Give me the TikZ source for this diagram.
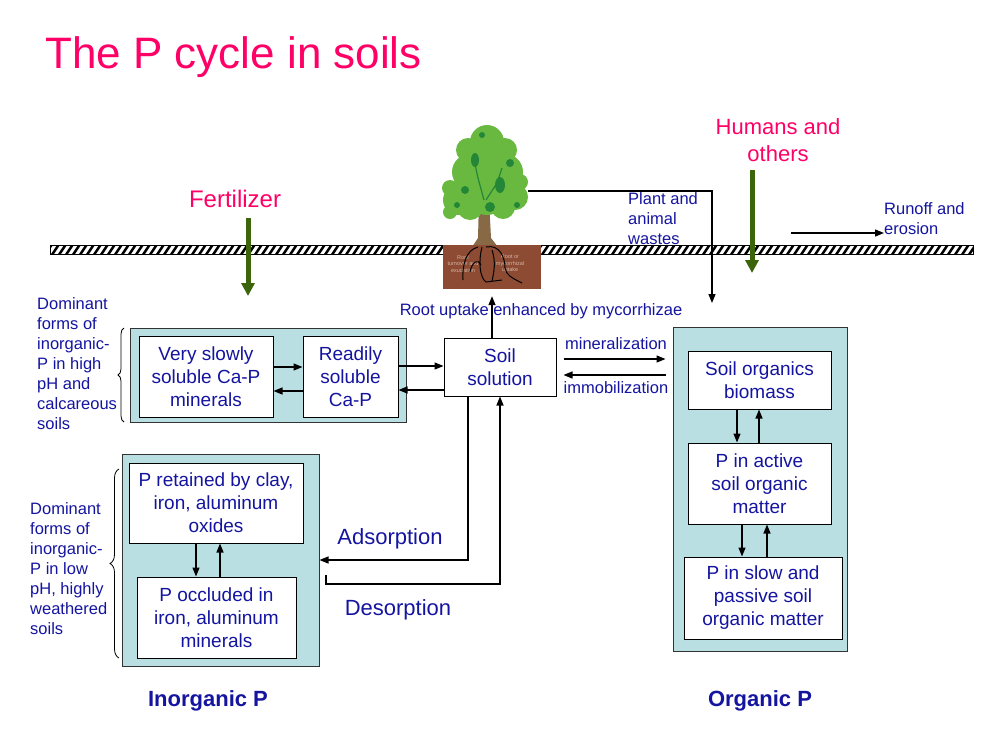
\documentclass[tikz,border=0pt]{standalone}
\usepackage{fontspec}
\setmainfont{Liberation Sans}
\usetikzlibrary{arrows.meta,decorations.pathreplacing}
\definecolor{tblue}{RGB}{20,20,160}
\definecolor{tpink}{RGB}{255,0,102}
\definecolor{tgreen}{RGB}{60,100,10}
\definecolor{tteal}{RGB}{186,223,226}
\definecolor{tsoil}{RGB}{140,75,50}
\definecolor{tleaf}{RGB}{105,185,65}
\definecolor{tleafd}{RGB}{35,135,55}
\definecolor{ttrunk}{RGB}{135,105,70}
\begin{document}
\begin{tikzpicture}[x=1pt,y=-1pt,
  container/.style={draw=black!80, line width=1pt, fill=tteal, inner sep=0pt},
  ibox/.style={draw=black, line width=1pt, fill=white, text=tblue, align=center,
    font=\fontsize{19}{23}\selectfont, inner sep=0pt},
  arr/.style={line width=1.3pt, -{Triangle[width=7pt,length=9pt]}},
  garr/.style={line width=5pt, draw=tgreen, -{Triangle[width=13pt,length=13pt]}},
  lbl/.style={text=tblue, font=\fontsize{16.5}{20}\selectfont, inner sep=0pt},
  big/.style={text=tblue, font=\fontsize{22}{26}\selectfont, inner sep=0pt},
  pinklbl/.style={text=tpink, font=\fontsize{22}{27}\selectfont, inner sep=0pt, align=center},
  bold/.style={text=tblue, font=\fontsize{22}{26}\selectfont\bfseries, inner sep=0pt}
]
\useasboundingbox (0,0) rectangle (1000,750);

% title
\node[anchor=base west, text=tpink, font=\fontsize{44}{53}\selectfont, inner sep=0pt] (title) at (45,68) {The P cycle in soils};

% ground bar
\begin{scope}
  \clip (50,245) rectangle (973,254);
  \fill[white] (50,245) rectangle (973,254);
  \foreach \x in {44,51,...,980} \fill[black] (\x,254) -- (\x+3,254) -- (\x+9,245) -- (\x+6,245) -- cycle;
\end{scope}
\draw[line width=1pt] (50,245) rectangle (973,254);

% tree
\fill[ttrunk] (479,200) -- (489,200) -- (491,238) -- (498,247) -- (472,247) -- (478,238) -- cycle;
\fill[tleaf] (487,142) circle (17) (468,150) circle (12) (505,150) circle (12)
  (470,172) circle (18) (505,172) circle (18) (487,165) circle (18)
  (458,200) circle (15) (515,197) circle (13) (487,195) circle (20)
  (470,207) circle (13) (503,207) circle (12) (450,188) circle (8) (520,182) circle (8)
  (450,212) circle (7);
\fill[tleafd] (475,160) ellipse (4 and 7) (500,185) ellipse (5 and 8) (465,190) circle (4)
  (510,163) circle (4) (490,207) circle (5) (482,135) circle (3) (457,205) circle (3) (517,205) circle (3);
\draw[tleafd, line width=1.2pt] (484,200) -- (478,178) -- (474,160) (486,200) -- (497,183) -- (502,168);
\node[fill=tsoil, minimum width=98, minimum height=44, inner sep=0pt] (soil) at (492,267) {};
\node[text={rgb,255:red,215;green,180;blue,165}, font=\fontsize{5.5}{6.5}\selectfont, align=center, inner sep=0pt] (soilt1) at (463,264) {Root\\turnover and\\exudation};
\node[text={rgb,255:red,215;green,180;blue,165}, font=\fontsize{5.5}{6.5}\selectfont, align=center, inner sep=0pt] (soilt2) at (510,264) {Root or\\mycorrhizal\\uptake};
\draw[line width=1pt] (478,247) .. controls (466,250) and (462,265) .. (463,280);
\draw[line width=1pt] (482,247) .. controls (478,262) and (480,278) .. (486,282) -- (502,280);
\draw[line width=1pt] (486,247) .. controls (500,244) and (505,258) .. (505,268) .. controls (506,275) and (512,278) .. (522,283);
\draw[line width=1pt] (470,272) .. controls (472,262) and (478,258) .. (481,265);
\draw[line width=1pt] (492,250) .. controls (496,262) and (494,272) .. (492,281);

% labels above ground
\node[text=tpink, font=\fontsize{24}{28}\selectfont, inner sep=0pt] (fert) at (235,199) {Fertilizer};
\coordinate (f1) at (248,218);
\coordinate (f2) at (248,296);
\draw[garr] (f1) -- (f2);
\node[pinklbl] (hum) at (778,140) {Humans and\\others};
\coordinate (h1) at (752,170);
\coordinate (h2) at (752,273);
\draw[garr] (h1) -- (h2);

\node[lbl, anchor=west, align=left] (waste) at (628,219) {Plant and\\animal\\wastes};
\coordinate (treeside) at (528,191);
\coordinate (wasteend) at (712,303);
\draw[arr] (treeside) -- (712,191) -- (wasteend);

\node[lbl, anchor=west, align=left] (runoff) at (884,219) {Runoff and\\erosion};
\coordinate (ro1) at (791,233);
\draw[arr] (ro1) -- (runoff.west |- 0,233);

% containers
\node[container, minimum width=276, minimum height=94] (c1) at (268,375) {};
\node[container, minimum width=197, minimum height=212] (c2) at (220.5,560) {};
\node[container, minimum width=174, minimum height=324] (c3) at (760,489) {};

% boxes
\node[ibox, minimum width=134, minimum height=81] (vs) at (206,376.5) {Very slowly\\soluble Ca-P\\minerals};
\node[ibox, minimum width=95, minimum height=81] (rs) at (350.5,376.5) {Readily\\soluble\\Ca-P};
\node[ibox, minimum width=112, minimum height=58] (sol) at (500,367) {Soil\\solution};
\node[ibox, minimum width=174, minimum height=80] (pr) at (216,503) {P retained by clay,\\iron, aluminum\\oxides};
\node[ibox, minimum width=159, minimum height=81] (po) at (216.5,617.5) {P occluded in\\iron, aluminum\\minerals};
\node[ibox, minimum width=143, minimum height=58] (ob) at (759.5,380) {Soil organics\\biomass};
\node[ibox, minimum width=143, minimum height=81] (oa) at (759.5,483.5) {P in active\\soil organic\\matter};
\node[ibox, minimum width=158, minimum height=82] (os) at (763,598) {P in slow and\\passive soil\\organic matter};

% arrows between boxes
\draw[arr] (vs.east |- 0,367) -- (rs.west |- 0,367);
\draw[arr] (rs.west |- 0,391) -- (vs.east |- 0,391);
\draw[arr] (rs.east |- 0,366) -- (sol.west |- 0,366);
\draw[arr] (sol.west |- 0,390) -- (rs.east |- 0,390);
\draw[arr, shorten >=7pt] (sol.north -| 492,0) -- (soil.south -| 492,0);
\draw[arr, shorten <=7pt, shorten >=7pt] (sol.east |- 0,359) -- (c3.west |- 0,359);
\draw[arr, shorten <=7pt, shorten >=7pt] (c3.west |- 0,375) -- (sol.east |- 0,375);
\draw[arr] (ob.south -| 737,0) -- (oa.north -| 737,0);
\draw[arr] (oa.north -| 759,0) -- (ob.south -| 759,0);
\draw[arr] (oa.south -| 742,0) -- (os.north -| 742,0);
\draw[arr] (os.north -| 767,0) -- (oa.south -| 767,0);
\draw[arr] (pr.south -| 196,0) -- (po.north -| 196,0);
\draw[arr] (po.north -| 220,0) -- (pr.south -| 220,0);
\draw[arr] (sol.south -| 468,0) |- (c2.east |- 0,560);
\coordinate (desstart) at (326,575);
\draw[arr] (desstart) -- (326,584) -- (500,584) -- (sol.south -| 500,0);

% text labels
\node[lbl] (root) at (541,311) {Root uptake enhanced by mycorrhizae};
\node[lbl] (mine) at (616,344) {mineralization};
\node[lbl] (immo) at (616,388) {immobilization};
\node[big] (ads) at (390,539) {Adsorption};
\node[big] (des) at (398,610) {Desorption};
\node[bold] (inorg) at (208,701) {Inorganic P};
\node[bold] (org) at (760,701) {Organic P};

\node[lbl, anchor=west, align=left] (dom1) at (37,364) {Dominant\\forms of\\inorganic-\\P in high\\pH and\\calcareous\\soils};
\node[lbl, anchor=west, align=left] (dom2) at (30,569) {Dominant\\forms of\\inorganic-\\P in low\\pH, highly\\weathered\\soils};

% braces
\draw[line width=0.8pt, decorate, decoration={brace, amplitude=6pt}] (124,422) -- (124,328);
\draw[line width=0.8pt, decorate, decoration={brace, amplitude=9pt}] (119,658) -- (119,469);
\end{tikzpicture}
\end{document}
